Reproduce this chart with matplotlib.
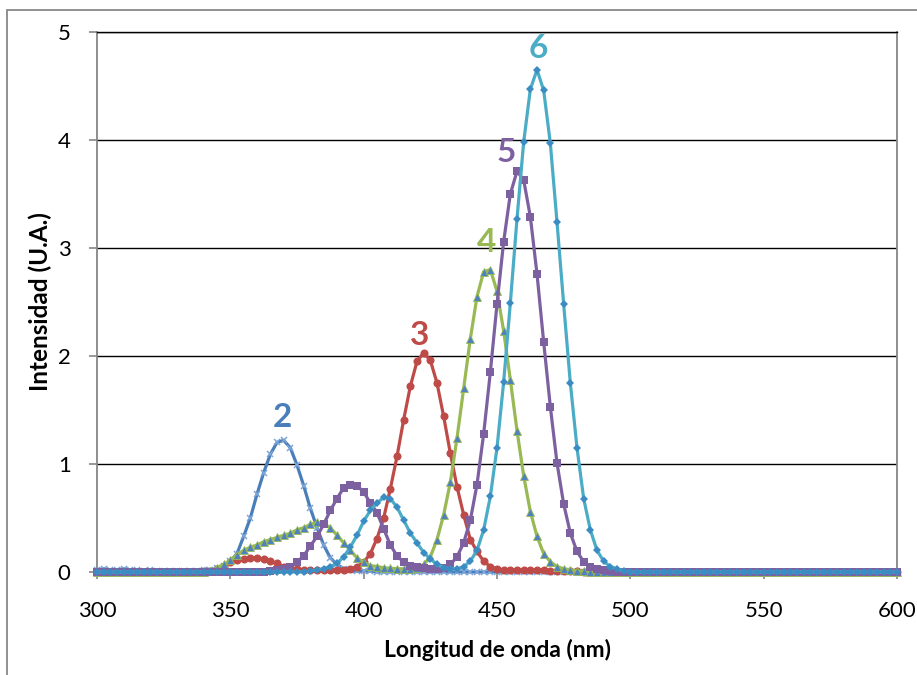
import numpy as np
import matplotlib
matplotlib.use("Agg")
import matplotlib.pyplot as plt
from matplotlib.patches import Rectangle

# wavelength grid (nm), 2.5 nm sampling from 300 to 600
wavelength = np.arange(300, 602.5, 2.5)

serie_2 = [0.02, 0.03, 0.02, 0.02, 0.03, 0.02, 0.02, 0.01, 0.02, 0.01,
           0.01, 0.01, 0.01, 0.01, 0.01, 0.01, 0.02, 0.02, 0.035, 0.06,
           0.10, 0.17, 0.33, 0.50, 0.72, 0.92, 1.09, 1.20, 1.22, 1.15,
           0.99, 0.80, 0.59, 0.41, 0.25, 0.13, 0.07, 0.03, 0.02, 0.01,
           0.01, 0.01, 0, 0, 0, 0, 0, 0, 0, 0,
           0, 0, 0, 0, 0, 0, 0, 0, 0, 0,
           0, 0, 0, 0, 0, 0, 0, 0, 0, 0,
           0, 0, 0, 0, 0, 0, 0, 0, 0, 0,
           0, 0, 0, 0, 0, 0, 0, 0, 0, 0,
           0, 0, 0, 0, 0, 0, 0, 0, 0, 0,
           0, 0, 0, 0, 0, 0, 0, 0, 0, 0,
           0, 0, 0, 0, 0, 0, 0, 0, 0, 0,
           0]

serie_3 = [0, 0, 0, 0, 0, 0, 0, 0, 0, 0,
           0, 0, 0, 0, 0, 0, 0.01, 0.01, 0.03, 0.06,
           0.09, 0.11, 0.12, 0.13, 0.13, 0.12, 0.10, 0.08, 0.05, 0.04,
           0.03, 0.02, 0.02, 0.02, 0.02, 0.02, 0.02, 0.02, 0.03, 0.05,
           0.09, 0.17, 0.31, 0.50, 0.77, 1.07, 1.41, 1.72, 1.95, 2.03,
           1.96, 1.75, 1.44, 1.10, 0.79, 0.53, 0.30, 0.19, 0.10, 0.05,
           0.03, 0.02, 0.02, 0.02, 0.02, 0.02, 0.02, 0.02, 0.01, 0.01,
           0.01, 0.01, 0.01, 0, 0, 0, 0, 0, 0, 0,
           0, 0, 0, 0, 0, 0, 0, 0, 0, 0,
           0, 0, 0, 0, 0, 0, 0, 0, 0, 0,
           0, 0, 0, 0, 0, 0, 0, 0, 0, 0,
           0, 0, 0, 0, 0, 0, 0, 0, 0, 0,
           0]

serie_4 = [0, 0, 0, 0, 0, 0, 0, 0, 0, 0,
           0, 0, 0, 0, 0, 0, 0, 0.01, 0.04, 0.07,
           0.11, 0.16, 0.20, 0.23, 0.25, 0.28, 0.30, 0.32, 0.34, 0.36,
           0.39, 0.41, 0.44, 0.46, 0.45, 0.41, 0.34, 0.27, 0.20, 0.13,
           0.09, 0.06, 0.05, 0.04, 0.035, 0.03, 0.03, 0.03, 0.04, 0.07,
           0.14, 0.30, 0.53, 0.83, 1.24, 1.70, 2.16, 2.55, 2.78, 2.80,
           2.60, 2.23, 1.78, 1.31, 0.89, 0.56, 0.33, 0.17, 0.095, 0.05,
           0.03, 0.02, 0.01, 0.01, 0, 0, 0, 0, 0, 0,
           0, 0, 0, 0, 0, 0, 0, 0, 0, 0,
           0, 0, 0, 0, 0, 0, 0, 0, 0, 0,
           0, 0, 0, 0, 0, 0, 0, 0, 0, 0,
           0, 0, 0, 0, 0, 0, 0, 0, 0, 0,
           0]

serie_5 = [0, 0, 0, 0, 0, 0, 0, 0, 0, 0,
           0, 0, 0, 0, 0, 0, 0, 0, 0, 0,
           0, 0, 0, 0, 0, 0, 0.01, 0.02, 0.03, 0.05,
           0.09, 0.15, 0.24, 0.33, 0.44, 0.57, 0.68, 0.78, 0.81, 0.80,
           0.74, 0.64, 0.55, 0.40, 0.25, 0.15, 0.09, 0.06, 0.05, 0.04,
           0.03, 0.03, 0.04, 0.07, 0.14, 0.27, 0.48, 0.81, 1.28, 1.85,
           2.48, 3.06, 3.50, 3.71, 3.63, 3.29, 2.76, 2.13, 1.53, 1.01,
           0.63, 0.36, 0.19, 0.095, 0.05, 0.03, 0.02, 0.01, 0, 0,
           0, 0, 0, 0, 0, 0, 0, 0, 0, 0,
           0, 0, 0, 0, 0, 0, 0, 0, 0, 0,
           0, 0, 0, 0, 0, 0, 0, 0, 0, 0,
           0, 0, 0, 0, 0, 0, 0, 0, 0, 0,
           0]

serie_6 = [0, 0, 0, 0, 0, 0, 0, 0, 0, 0,
           0, 0, 0, 0, 0, 0, 0, 0, 0, 0,
           0, 0, 0, 0, 0, 0, 0, 0, 0, 0,
           0, 0, 0.01, 0.02, 0.03, 0.05, 0.08, 0.14, 0.23, 0.34,
           0.47, 0.57, 0.64, 0.69, 0.68, 0.60, 0.48, 0.36, 0.27, 0.18,
           0.12, 0.07, 0.04, 0.03, 0.03, 0.05, 0.10, 0.20, 0.39, 0.70,
           1.15, 1.76, 2.49, 3.27, 3.98, 4.47, 4.65, 4.46, 3.97, 3.24,
           2.48, 1.75, 1.15, 0.68, 0.39, 0.20, 0.10, 0.05, 0.03, 0.01,
           0, 0, 0, 0, 0, 0, 0, 0, 0, 0,
           0, 0, 0, 0, 0, 0, 0, 0, 0, 0,
           0, 0, 0, 0, 0, 0, 0, 0, 0, 0,
           0, 0, 0, 0, 0, 0, 0, 0, 0, 0,
           0]

series_names = ["2", "3", "4", "5", "6"]
label_x = [369.7, 421.1, 445.9, 453.4, 465.4]
label_y = [1.43, 2.19, 3.05, 3.88, 4.85]

x_ticks = [300, 350, 400, 450, 500, 550, 600]
y_ticks = [0, 1, 2, 3, 4, 5]

FONT = "Lato"
plt.rcParams['font.family'] = [FONT, 'DejaVu Sans']

fig = plt.figure(figsize=(9.17, 6.75), dpi=100)
fig.patch.set_facecolor("white")
ax = fig.add_axes([97/917, 1 - 572/675, 800/917, 540/675])

# outer chart border
fig.add_artist(Rectangle((7/917, -0.1), 1.2, (675 - 10)/675 + 0.1,
                         transform=fig.transFigure, fill=False,
                         edgecolor="#888888", lw=1.3))

styles = [
    dict(color="#4A7EBB", marker="x", ms=5, mew=1.1, mfc="#7EA6D8", mec="#7EA6D8"),
    dict(color="#BE4B48", marker="o", ms=5.8, mew=0, mfc="#BE4B48", mec="#BE4B48"),
    dict(color="#98B954", marker="^", ms=5.8, mew=0.6, mfc="#4F81BD", mec="#98B954"),
    dict(color="#7D60A0", marker="s", ms=6.3, mew=0, mfc="#7D60A0", mec="#7D60A0"),
    dict(color="#4BACC6", marker="D", ms=4.0, mew=0, mfc="#3C8CC4", mec="#3C8CC4"),
]
data = [serie_2, serie_3, serie_4, serie_5, serie_6]

for vals, st in zip(data, styles):
    ax.plot(wavelength, vals, lw=2.3, zorder=3, clip_on=False, **st)

for name, lx, ly, st in zip(series_names, label_x, label_y, styles):
    ax.text(lx, ly, name, color=st["color"], fontsize=24, fontweight="bold",
            ha="center", va="center", zorder=5)

ax.set_xlim(300, 600)
ax.set_ylim(0, 5)
ax.set_xticks(x_ticks)
ax.set_yticks(y_ticks)
ax.set_xticklabels([str(v) for v in x_ticks])
ax.set_yticklabels([str(v) for v in y_ticks])

ax.yaxis.grid(True, color="#000000", lw=1.0, zorder=1)
ax.set_axisbelow(True)
for side in ["left", "right", "bottom"]:
    ax.spines[side].set_color("#868686")
    ax.spines[side].set_linewidth(1.3)
ax.spines["top"].set_color("#000000")
ax.spines["top"].set_linewidth(1.0)

ax.tick_params(axis="y", direction="out", length=6, width=1.2, color="#868686",
               pad=13, labelsize=16)
ax.tick_params(axis="x", direction="out", length=5, width=1.2, color="#868686",
               pad=16, labelsize=16)

fig.text(497/917, 1 - 650/675, "Longitud de onda (nm)", ha="center", va="center",
         fontsize=16.5, fontweight="bold")
fig.text(40/917, 1 - 302/675, "Intensidad (U.A.)", ha="center", va="center",
         rotation=90, fontsize=17.5, fontweight="bold")

fig.savefig("out.png", dpi=100)
